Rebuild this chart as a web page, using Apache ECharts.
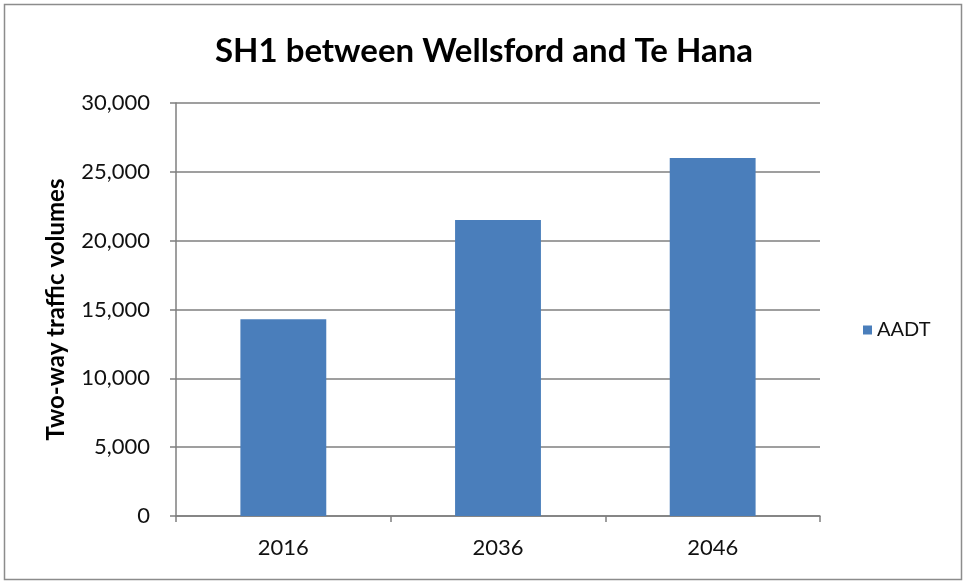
<!DOCTYPE html>
<html>
<head>
<meta charset="utf-8">
<script src="https://cdn.jsdelivr.net/npm/echarts@6/dist/echarts.min.js"></script>
<style>
  html, body { margin: 0; padding: 0; background: #fff; }
  #chart-container { width: 968px; height: 584px; }
</style>
</head>
<body>
<div id="chart-container"></div>
<script>
var dom = document.getElementById("chart-container");
var myChart = echarts.init(dom, null, { renderer: "canvas" });

// data
var years = ["2016", "2036", "2046"];
var aadt = [14300, 21500, 26000];
var seriesName = "AADT";

var font = "Lato, 'DejaVu Sans', sans-serif";

var option = {
  backgroundColor: "#fff",
  textStyle: { fontFamily: font },
  graphic: [
    {
      type: "rect",
      shape: { x: 4.5, y: 4.5, width: 957, height: 575 },
      style: { fill: "none", stroke: "#8c8c8c", lineWidth: 1.5 },
      silent: true
    }
  ],
  title: {
    text: "SH1 between Wellsford and Te Hana",
    left: "center",
    top: 30,
    textStyle: { fontFamily: font, fontSize: 33, fontWeight: "bold", color: "#000" }
  },
  legend: {
    data: [seriesName],
    orient: "vertical",
    left: 858,
    top: 315,
    icon: "rect",
    itemWidth: 9,
    itemHeight: 9,
    itemGap: 6,
    textStyle: { fontFamily: font, fontSize: 20, color: "#111" }
  },
  grid: { left: 176, right: 148, top: 103, bottom: 68 },
  xAxis: {
    type: "category",
    data: years,
    axisLine: { lineStyle: { color: "#7f7f7f", width: 1.5 } },
    axisTick: { show: true, length: 6, alignWithLabel: false, lineStyle: { color: "#7f7f7f", width: 1.5 } },
    axisLabel: { fontFamily: font, fontSize: 22, color: "#111", margin: 21 }
  },
  yAxis: {
    type: "value",
    min: 0,
    max: 30000,
    interval: 5000,
    name: "Two-way traffic volumes",
    nameLocation: "middle",
    nameGap: 108,
    nameTextStyle: { fontFamily: font, fontSize: 24, fontWeight: "bold", color: "#000" },
    axisLine: { show: true, lineStyle: { color: "#7f7f7f", width: 1.5 } },
    axisTick: { show: true, length: 6, lineStyle: { color: "#7f7f7f", width: 1.5 } },
    axisLabel: {
      fontFamily: font, fontSize: 22, color: "#111", margin: 26,
      formatter: function (v) { return v.toLocaleString("en-US"); }
    },
    splitLine: { lineStyle: { color: "#7f7f7f", width: 1.5 } }
  },
  series: [
    {
      name: seriesName,
      type: "bar",
      data: aadt,
      barWidth: "40%",
      itemStyle: { color: "#4a7ebb" }
    }
  ]
};

myChart.setOption(option);
window.addEventListener("resize", myChart.resize);
</script>
</body>
</html>
